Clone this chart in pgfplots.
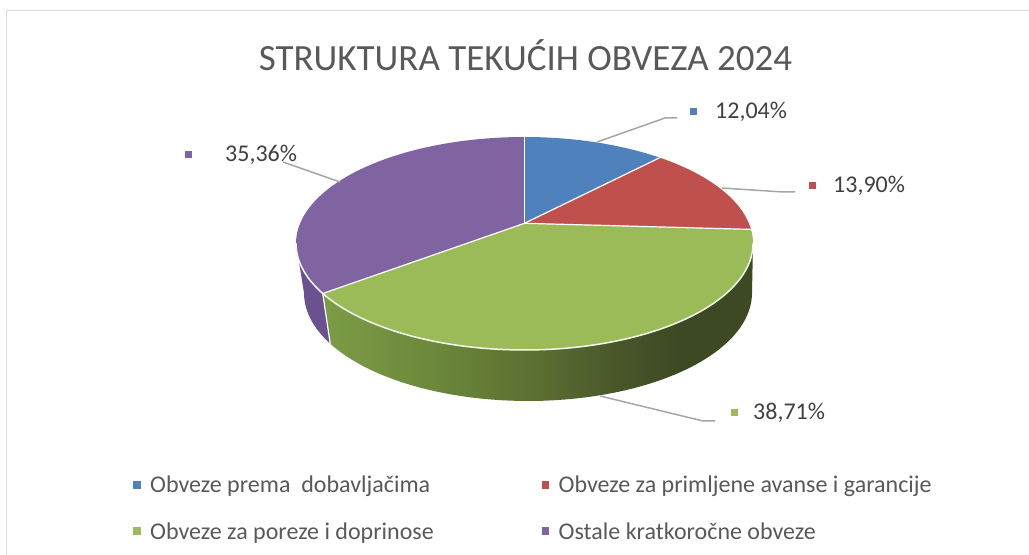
\documentclass[border=0pt]{standalone}
\usepackage{pgfplots}
\pgfplotsset{compat=1.18}
\usepackage{pgfplotstable}
\usepackage{fontspec}
\setmainfont{Carlito}
\definecolor{cblue}{HTML}{4F81BD}
\definecolor{cred}{HTML}{C0504D}
\definecolor{cgreen}{HTML}{9BBB59}
\definecolor{cpurple}{HTML}{8064A2}
\definecolor{cpurpleside}{HTML}{6A5190}
\definecolor{gsA}{HTML}{7D9C46}
\definecolor{gsB}{HTML}{6B873B}
\definecolor{gsC}{HTML}{5A6E31}
\definecolor{gsD}{HTML}{48562A}
\definecolor{gsE}{HTML}{3D4922}
\definecolor{ctext}{HTML}{404040}
\definecolor{clegend}{HTML}{595959}
\definecolor{ctitle}{HTML}{595959}
\definecolor{cleader}{HTML}{A6A6A6}
\definecolor{cframe}{HTML}{D9D9D9}
\pgfdeclarehorizontalshading{greenside}{100bp}{color(0bp)=(gsA); color(25bp)=(gsA); color(38.6bp)=(gsB); color(50.2bp)=(gsC); color(59.5bp)=(gsD); color(66.5bp)=(gsE); color(100bp)=(gsE)}

\pgfplotstableread{
label value
1 12.04
2 13.90
3 38.71
4 35.36
}\piedata

\begin{document}
\begin{tikzpicture}[declare function={
  ff(\t)=1+0.19*cos(\t);
  tx(\t)=524.5+224.34*sin(\t)/ff(\t);
  ty(\t)=311.5+106.5*(cos(\t)+0.19)/ff(\t);
  bx(\t)=528+219.92*sin(\t)/ff(\t);
  by(\t)=262+108*(cos(\t)+0.19)/ff(\t);
}]
\pgfplotstablegetelem{0}{value}\of\piedata \pgfmathsetmacro\aA{3.6*\pgfplotsretval}
\pgfplotstablegetelem{1}{value}\of\piedata \pgfmathsetmacro\aB{\aA+3.6*\pgfplotsretval}
\pgfplotstablegetelem{2}{value}\of\piedata \pgfmathsetmacro\aC{\aB+3.6*\pgfplotsretval}
\pgfplotstablegetelem{3}{value}\of\piedata \pgfmathsetmacro\aD{\aC+3.6*\pgfplotsretval}
\pgfmathsetmacro\tR{90+asin(0.19)}
\pgfmathsetmacro\tL{270-asin(0.19)}
\def\cx{524.5}\def\cy{331.7}
\begin{axis}[width=1029bp, height=555bp, scale only axis,
  xmin=0, xmax=1029, ymin=0, ymax=555, hide axis, clip=false,
  legend columns=2, legend cell align=left,
  legend image code/.code={\path[#1] (0bp,-3.5bp) rectangle (7.5bp,4bp);},
  legend style={at={(axis cs:133,79)}, anchor=north west, draw=none, fill=none,
    inner sep=0pt, column sep=9.5bp, row sep=28bp,
    nodes={inner sep=0pt, text=clegend, font=\fontsize{24bp}{28bp}\selectfont}},
]
% frame
\draw[cframe, line width=1.5bp] (6.5,0) -- (6.5,544.5) -- (1029,544.5);
% title
\node[text=ctitle, font=\fontsize{37bp}{44bp}\selectfont] at (525.5,500) {STRUKTURA TEKUĆIH OBVEZA 2024};
% side faces
\fill[cpurpleside] plot[domain=\aC:\tL, samples=20, variable=\t] ({tx(\t)},{ty(\t)})
   -- plot[domain=\tL:\aC, samples=20, variable=\t] ({bx(\t)},{by(\t)}) -- cycle;
\shade[shading=greenside] plot[domain=\tR:\aC, samples=60, variable=\t] ({tx(\t)},{ty(\t)})
   -- plot[domain=\aC:\tR, samples=60, variable=\t] ({bx(\t)},{by(\t)}) -- cycle;
\draw[white, line width=1.2bp] ({tx(\aC)},{ty(\aC)}) -- ({bx(\aC)},{by(\aC)});
% top slices
\fill[cblue] (\cx,\cy) -- plot[domain=0:\aA, samples=30, variable=\t] ({tx(\t)},{ty(\t)}) -- cycle;
\fill[cred] (\cx,\cy) -- plot[domain=\aA:\aB, samples=30, variable=\t] ({tx(\t)},{ty(\t)}) -- cycle;
\fill[cgreen] (\cx,\cy) -- plot[domain=\aB:\aC, samples=80, variable=\t] ({tx(\t)},{ty(\t)}) -- cycle;
\fill[cpurple] (\cx,\cy) -- plot[domain=\aC:\aD, samples=80, variable=\t] ({tx(\t)},{ty(\t)}) -- cycle;
\draw[white, line width=1.2bp] (\cx,\cy) -- ({tx(0)},{ty(0)});
\draw[white, line width=1.2bp] (\cx,\cy) -- ({tx(\aA)},{ty(\aA)});
\draw[white, line width=1.2bp] (\cx,\cy) -- ({tx(\aB)},{ty(\aB)});
\draw[white, line width=1.2bp] (\cx,\cy) -- ({tx(\aC)},{ty(\aC)});
\draw[white!90!cgreen, line width=1.5bp] plot[domain=\tR:\tL, samples=100, variable=\t] ({tx(\t)},{ty(\t)});
% leader lines
\draw[cleader, line width=1.5bp] (597,413) -- (665,437) -- (677,437);
\draw[cleader, line width=1.5bp] (722,367) -- (783,363) -- (795,363);
\draw[cleader, line width=1.5bp] (600,159) -- (703,134) -- (715,134);
\draw[cleader, line width=1.5bp] (283,393) -- (340,373);
% data labels
\node[anchor=west, inner sep=0pt, text=ctext, font=\fontsize{24bp}{28bp}\selectfont] at (690,443)
  {\textcolor{cblue}{\rule[4bp]{7bp}{7bp}}\hspace{18bp}12,04\%};
\node[anchor=west, inner sep=0pt, text=ctext, font=\fontsize{24bp}{28bp}\selectfont] at (809,369)
  {\textcolor{cred}{\rule[4bp]{7bp}{7bp}}\hspace{17bp}13,90\%};
\node[anchor=west, inner sep=0pt, text=ctext, font=\fontsize{24bp}{28bp}\selectfont] at (731,142)
  {\textcolor{cgreen}{\rule[4bp]{7bp}{7bp}}\hspace{15bp}38,71\%};
\node[anchor=west, inner sep=0pt, text=ctext, font=\fontsize{24bp}{28bp}\selectfont] at (185,400)
  {\textcolor{cpurple}{\rule[4bp]{7bp}{7bp}}\hspace{33bp}35,36\%};
% legend
\addlegendimage{fill=cblue, draw=none}
\addlegendentry{\makebox[382bp][l]{Obveze prema\ \ dobavljačima}}
\addlegendimage{fill=cred, draw=none}
\addlegendentry{Obveze za primljene avanse i garancije}
\addlegendimage{fill=cgreen, draw=none}
\addlegendentry{\makebox[382bp][l]{Obveze za poreze i doprinose}}
\addlegendimage{fill=cpurple, draw=none}
\addlegendentry{Ostale kratkoročne obveze}
\end{axis}
\pgfresetboundingbox
\path[use as bounding box] (0,0) rectangle (1029bp,555bp);
\end{tikzpicture}
\end{document}
